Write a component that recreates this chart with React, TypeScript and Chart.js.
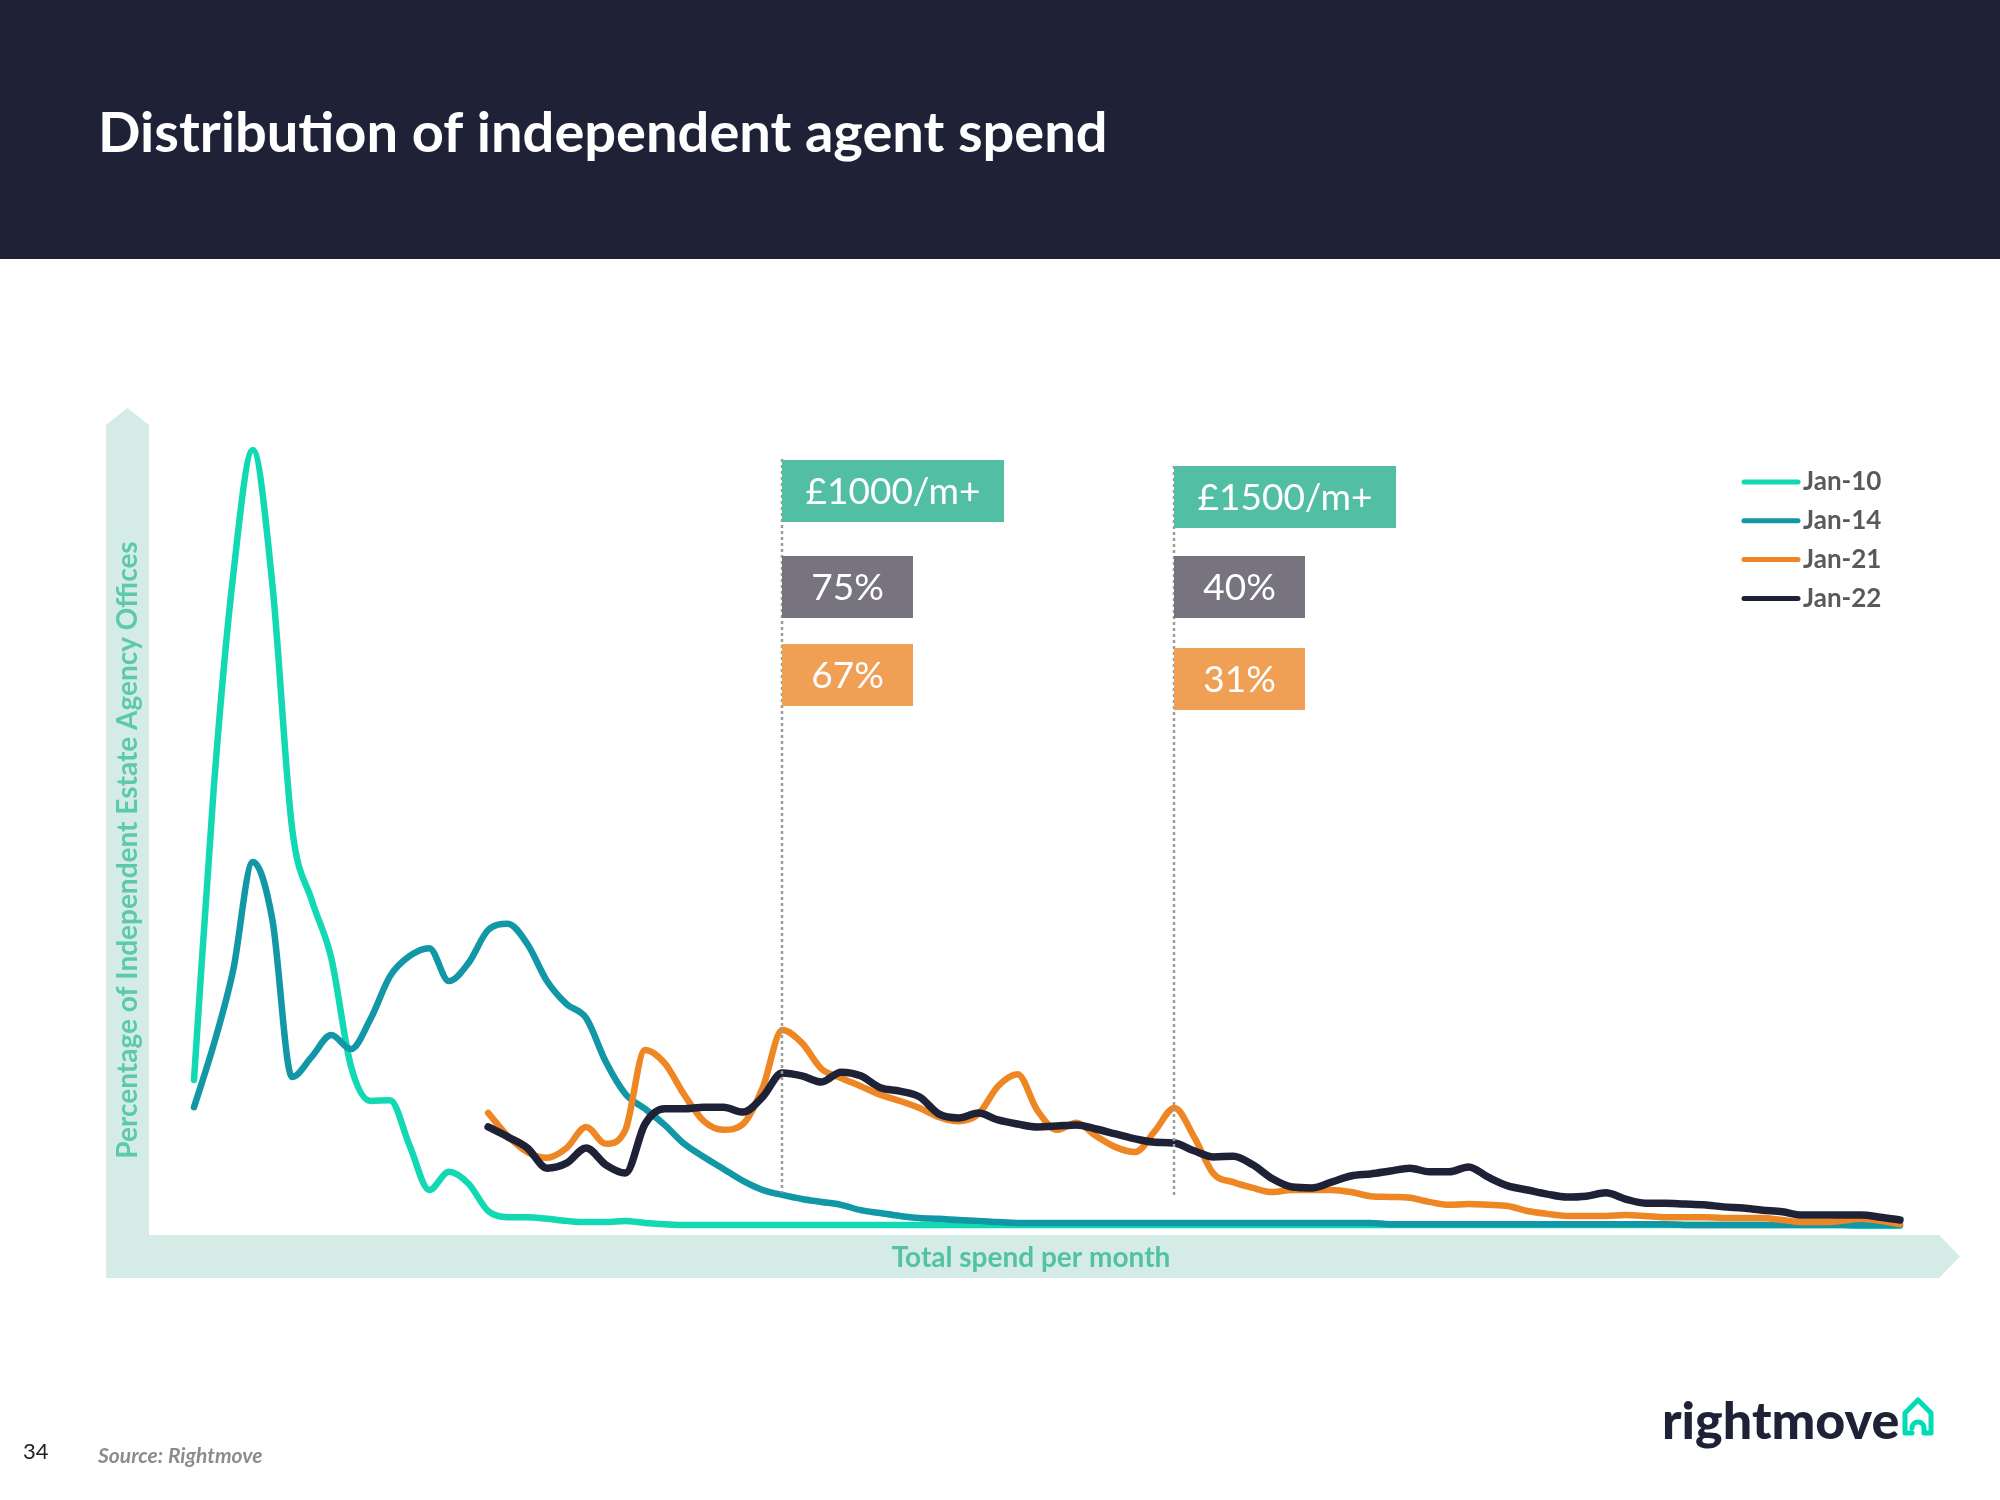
import React, { useEffect, useRef } from "react";
import { Chart, registerables } from "chart.js";

Chart.register(...registerables);

// Total spend per month (£), one point per £25 band
const spend = [
  250, 275, 300, 325, 350, 375, 400, 425, 450, 475,
  500, 525, 550, 575, 600, 625, 650, 675, 700, 725,
  750, 775, 800, 825, 850, 875, 900, 925, 950, 975,
  1000, 1025, 1050, 1075, 1100, 1125, 1150, 1175, 1200, 1225,
  1250, 1275, 1300, 1325, 1350, 1375, 1400, 1425, 1450, 1475,
  1500, 1525, 1550, 1575, 1600, 1625, 1650, 1675, 1700, 1725,
  1750, 1775, 1800, 1825, 1850, 1875, 1900, 1925, 1950, 1975,
  2000, 2025, 2050, 2075, 2100, 2125, 2150, 2175, 2200, 2225,
  2250, 2275, 2300, 2325, 2350, 2375, 2400, 2425,
];

// Percentage of independent estate agency offices in each band
const jan10 = [
  3.69, 10.73, 15.95, 18.98, 15.7, 9.81, 8.06, 6.65, 4.03, 3.18,
  3.2, 2.09, 1.02, 1.46, 1.17, 0.51, 0.36, 0.36, 0.32, 0.27,
  0.24, 0.24, 0.27, 0.22, 0.19, 0.17, 0.17, 0.17, 0.17, 0.17,
  0.17, 0.17, 0.17, 0.17, 0.17, 0.17, 0.17, 0.17, 0.17, 0.17,
  0.17, 0.17, 0.17, 0.17, 0.17, 0.17, 0.17, 0.17, 0.17, 0.17,
  0.17, 0.17, 0.17, 0.17, 0.17, 0.17, 0.17, 0.17, 0.17, 0.17,
  0.17, 0.17, 0.17, 0.17, 0.17, 0.17, 0.17, 0.17, 0.17, 0.17,
  0.17, 0.17, 0.17, 0.17, 0.17, 0.17, 0.17, 0.17, 0.17, 0.17,
  0.17, 0.17, 0.17, 0.17, 0.17, 0.15, 0.15, 0.15,
];

const jan14 = [
  3.03, 4.54, 6.36, 8.98, 7.57, 3.76, 4.25, 4.78, 4.44, 5.17,
  6.21, 6.7, 6.89, 6.09, 6.53, 7.33, 7.48, 6.99, 6.09, 5.53,
  5.19, 4.13, 3.35, 2.99, 2.6, 2.14, 1.82, 1.53, 1.24, 1.02,
  0.9, 0.8, 0.73, 0.66, 0.53, 0.46, 0.39, 0.34, 0.32, 0.29,
  0.27, 0.24, 0.22, 0.22, 0.22, 0.22, 0.22, 0.22, 0.22, 0.22,
  0.22, 0.22, 0.22, 0.22, 0.22, 0.22, 0.22, 0.22, 0.22, 0.22,
  0.22, 0.19, 0.19, 0.19, 0.19, 0.19, 0.19, 0.19, 0.19, 0.19,
  0.19, 0.19, 0.19, 0.19, 0.19, 0.19, 0.17, 0.17, 0.17, 0.17,
  0.17, 0.17, 0.17, 0.17, 0.17, 0.17, 0.17, 0.17,
];

const jan21 = [
  null, null, null, null, null, null, null, null, null, null,
  null, null, null, null, null, 2.89, 2.33, 1.94, 1.8, 2.04,
  2.55, 2.14, 2.48, 4.42, 4.1, 3.33, 2.69, 2.48, 2.62, 3.5,
  4.9, 4.59, 3.96, 3.74, 3.54, 3.33, 3.18, 3.01, 2.79, 2.69,
  2.86, 3.54, 3.83, 2.96, 2.48, 2.65, 2.33, 2.06, 1.94, 2.45,
  3.01, 2.31, 1.41, 1.21, 1.07, 0.97, 1.02, 1.02, 1.02, 0.97,
  0.87, 0.85, 0.83, 0.73, 0.66, 0.68, 0.66, 0.63, 0.51, 0.44,
  0.39, 0.39, 0.39, 0.41, 0.39, 0.36, 0.36, 0.36, 0.34, 0.34,
  0.34, 0.29, 0.24, 0.24, 0.27, 0.32, 0.27, 0.19,
];

const jan22 = [
  null, null, null, null, null, null, null, null, null, null,
  null, null, null, null, null, 2.55, 2.31, 2.04, 1.55, 1.67,
  2.04, 1.63, 1.43, 2.62, 2.99, 2.99, 3.03, 3.03, 2.91, 3.28,
  3.86, 3.79, 3.64, 3.88, 3.79, 3.5, 3.42, 3.28, 2.86, 2.77,
  2.89, 2.72, 2.62, 2.55, 2.57, 2.6, 2.5, 2.38, 2.26, 2.18,
  2.16, 1.97, 1.82, 1.84, 1.63, 1.29, 1.09, 1.07, 1.21, 1.36,
  1.41, 1.48, 1.55, 1.46, 1.46, 1.58, 1.33, 1.12, 1.02, 0.92,
  0.85, 0.87, 0.95, 0.8, 0.7, 0.7, 0.68, 0.66, 0.61, 0.58,
  0.53, 0.49, 0.41, 0.41, 0.41, 0.41, 0.36, 0.29,
];

const seriesNames = ["Jan-10", "Jan-14", "Jan-21", "Jan-22"];
const seriesColors = ["#12d9b3", "#1197a5", "#ee8623", "#1f2237"];

// Spend thresholds and share of offices spending at least that much
const thresholds = [1000, 1500];
const thresholdLabels = ["£1000/m+", "£1500/m+"];
const shareJan22 = ["75%", "40%"];
const shareJan21 = ["67%", "31%"];

const TITLE = "Distribution of independent agent spend";
const Y_TITLE = "Percentage of Independent Estate Agency Offices";
const X_TITLE = "Total spend per month";
const SOURCE = "Source: Rightmove";
const PAGE = "34";

const W = 2000;
const H = 1500;
const FONT = "Lato, 'Open Sans', sans-serif";

const decorPlugin = {
  id: "decor",
  beforeDraw(chart: any) {
    const ctx = chart.ctx as CanvasRenderingContext2D;
    ctx.save();
    ctx.fillStyle = "#ffffff";
    ctx.fillRect(0, 0, W, H);
    // header
    ctx.fillStyle = "#1f2237";
    ctx.fillRect(0, 0, W, 259);
    ctx.fillStyle = "#ffffff";
    ctx.font = `bold 56px ${FONT}`;
    ctx.textBaseline = "alphabetic";
    ctx.textAlign = "left";
    ctx.fillText(TITLE, 98, 152);

    // axis arrow bands
    ctx.fillStyle = "#d5ece6";
    ctx.beginPath();
    ctx.moveTo(106, 425);
    ctx.lineTo(127.5, 408);
    ctx.lineTo(149, 425);
    ctx.lineTo(149, 1235);
    ctx.lineTo(1939, 1235);
    ctx.lineTo(1960, 1256.5);
    ctx.lineTo(1939, 1278);
    ctx.lineTo(106, 1278);
    ctx.closePath();
    ctx.fill();

    // axis titles
    ctx.font = `bold 28px ${FONT}`;
    ctx.fillStyle = "#5ccaa9";
    ctx.textAlign = "center";
    ctx.textBaseline = "middle";
    ctx.save();
    ctx.translate(128, 850);
    ctx.rotate(-Math.PI / 2);
    ctx.fillText(Y_TITLE, 0, 0);
    ctx.restore();
    ctx.fillStyle = "#52c2a3";
    ctx.fillText(X_TITLE, 1031, 1258);
    ctx.restore();
  },
  afterDatasetsDraw(chart: any) {
    const ctx = chart.ctx as CanvasRenderingContext2D;
    const xs = chart.scales.x;
    const tops = [459, 466];
    const bottoms = [1193, 1196];
    ctx.save();
    ctx.strokeStyle = "#9c9c9c";
    ctx.lineWidth = 2.5;
    ctx.setLineDash([3, 3]);
    thresholds.forEach((t, i) => {
      const x = Math.round(xs.getPixelForValue(t));
      ctx.beginPath();
      ctx.moveTo(x, tops[i]);
      ctx.lineTo(x, bottoms[i]);
      ctx.stroke();
    });
    ctx.restore();
  },
  afterDraw(chart: any) {
    const ctx = chart.ctx as CanvasRenderingContext2D;
    const xs = chart.scales.x;
    ctx.save();
    // threshold boxes
    const headTops = [460, 466];
    const grayTops = [556, 556];
    const orangeTops = [644, 648];
    const boxH = 62;
    const drawBox = (x: number, y: number, w: number, color: string, text: string) => {
      ctx.fillStyle = color;
      ctx.fillRect(x, y, w, boxH);
      ctx.fillStyle = "#ffffff";
      ctx.font = `37px ${FONT}`;
      ctx.textAlign = "center";
      ctx.textBaseline = "middle";
      ctx.fillText(text, x + w / 2, y + boxH / 2 + 1);
    };
    thresholds.forEach((t, i) => {
      const x = Math.round(xs.getPixelForValue(t));
      drawBox(x, headTops[i], 222, "#52bfa5", thresholdLabels[i]);
      drawBox(x, grayTops[i], 131, "#77737f", shareJan22[i]);
      drawBox(x, orangeTops[i], 131, "#f0a055", shareJan21[i]);
    });

    // legend
    seriesNames.forEach((name, i) => {
      const y = 482 + i * 38.8;
      ctx.strokeStyle = seriesColors[i];
      ctx.lineWidth = 5;
      ctx.lineCap = "round";
      ctx.beginPath();
      ctx.moveTo(1744, y);
      ctx.lineTo(1798, y);
      ctx.stroke();
      ctx.fillStyle = "#595959";
      ctx.font = `bold 26px ${FONT}`;
      ctx.textAlign = "left";
      ctx.textBaseline = "middle";
      ctx.fillText(name, 1803, y);
    });

    // footer
    ctx.fillStyle = "#222222";
    ctx.font = `22px ${FONT}`;
    ctx.textAlign = "left";
    ctx.textBaseline = "middle";
    ctx.fillText(PAGE, 23, 1452);
    ctx.fillStyle = "#8c8c8c";
    ctx.font = `italic bold 21px ${FONT}`;
    ctx.fillText(SOURCE, 98, 1456);

    // logo
    ctx.fillStyle = "#1f2237";
    ctx.font = `900 52px ${FONT}`;
    ctx.textBaseline = "alphabetic";
    ctx.fillText("rightmove", 1662, 1439);
    ctx.strokeStyle = "#00dcb4";
    ctx.lineWidth = 5;
    ctx.lineJoin = "round";
    ctx.lineCap = "round";
    ctx.beginPath();
    ctx.moveTo(1912, 1433);
    ctx.lineTo(1905, 1433);
    ctx.lineTo(1905, 1413);
    ctx.lineTo(1918, 1400);
    ctx.lineTo(1931, 1413);
    ctx.lineTo(1931, 1433);
    ctx.lineTo(1924, 1433);
    ctx.arc(1918, 1428, 6, 0, Math.PI, true);
    ctx.stroke();
    ctx.restore();
  },
};

export default function App() {
  const canvasRef = useRef<HTMLCanvasElement | null>(null);

  useEffect(() => {
    const canvas = canvasRef.current;
    if (!canvas) return;
    const all = [jan10, jan14, jan21, jan22];
    const chart = new Chart(canvas, {
      type: "line",
      data: {
        datasets: all.map((vals, i) => ({
          label: seriesNames[i],
          data: spend.map((s, j) => ({ x: s, y: vals[j] })),
          borderColor: seriesColors[i],
          backgroundColor: seriesColors[i],
          borderWidth: i === 3 ? 7.5 : 6.5,
          pointRadius: 0,
          cubicInterpolationMode: "monotone",
          borderCapStyle: "round",
          borderJoinStyle: "round",
          spanGaps: false,
          fill: false,
          clip: false,
          order: 3 - i,
        })),
      },
      options: {
        responsive: false,
        animation: false,
        devicePixelRatio: 1,
        layout: { padding: { left: 194, right: 100, top: 408, bottom: 268 } },
        scales: {
          x: { type: "linear", min: 250, max: 2425, display: false },
          y: { type: "linear", min: 0, max: 20, display: false },
        },
        plugins: {
          legend: { display: false },
          tooltip: { enabled: false },
        },
        events: [],
      },
      plugins: [decorPlugin],
    } as any);
    return () => chart.destroy();
  }, []);

  return (
    <div style={{ position: "absolute", left: 0, top: 0, width: W, height: H, background: "#fff" }}>
      <canvas ref={canvasRef} width={W} height={H} style={{ width: W, height: H, display: "block" }} />
    </div>
  );
}
